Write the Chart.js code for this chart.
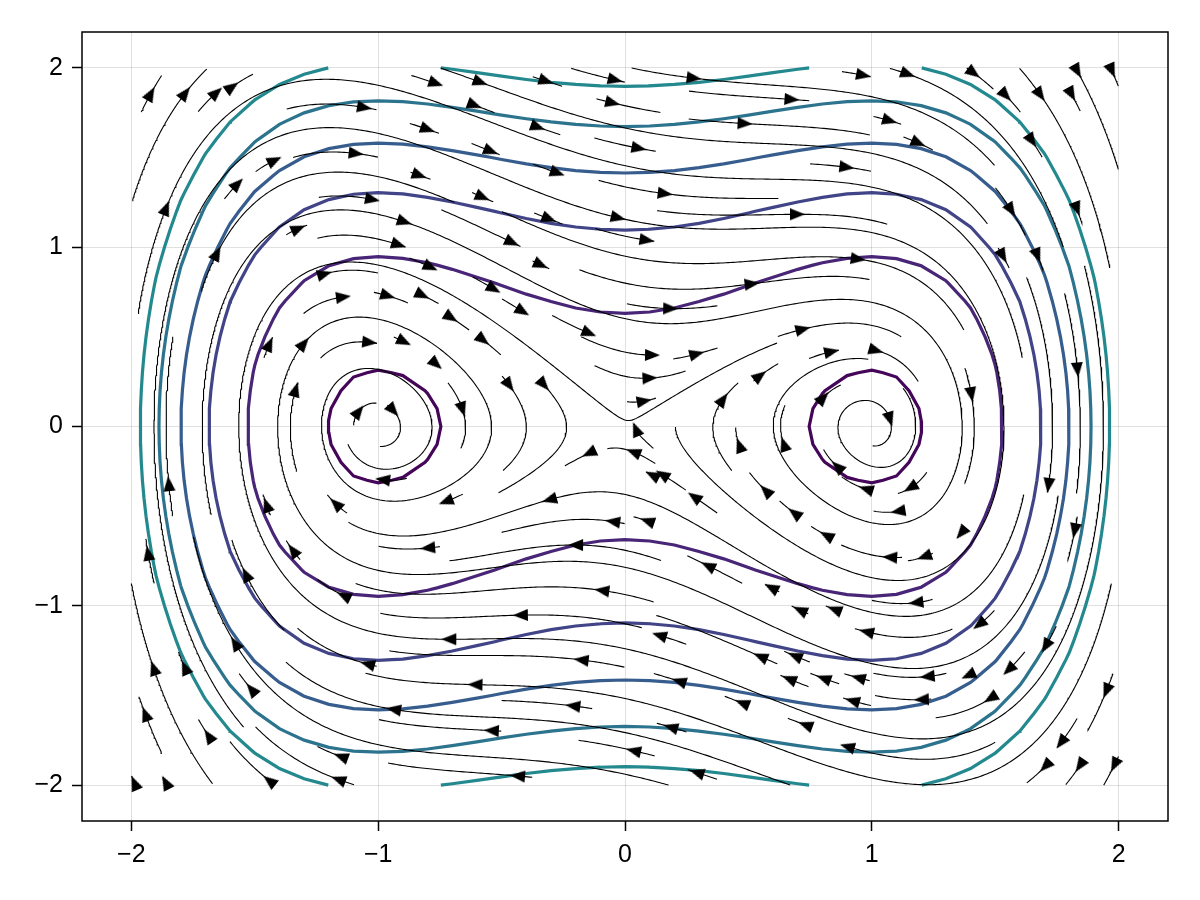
<!DOCTYPE html>
<html>
<head>
<meta charset="utf-8">
<script src="https://cdn.jsdelivr.net/npm/chart.js@4/dist/chart.umd.min.js"></script>
<style>
  html, body { margin: 0; background: #fff; }
  #wrap { width: 1200px; height: 900px; }
</style>
</head>
<body>
<div id="wrap"><canvas id="chart" width="1200" height="900"></canvas></div>
<script>
// axis setup
const xTicks = [-2, -1, 0, 1, 2];
const yTicks = [-2, -1, 0, 1, 2];
const axisLimits = [-2.2, 2.2];

// damped double-well field: dx = y, dy = x - x^3 - damping*y
const fieldLimits = [-2, 2];
const damping = 0.3;

// streamplot settings (Makie defaults)
const seedGrid = [32, 32];
const stepSize = 0.01;
const maxSteps = 500;

// energy contours overlaid on the stream plot
const contourLevels = [-0.2, 0.2, 0.6, 1.0, 1.4, 1.8];
const contourColors = ['#45065a', '#482576', '#414487', '#365d8d', '#2c738e', '#23898e'];
const contourGrid = 41;

const field = (x, y) => [y, x - x * x * x - damping * y];
const energy = (x, y) => y * y / 2 - x * x / 2 + x * x * x * x / 4;

// ---- stream lines, seeded cell by cell like Makie's streamplot ----
const lo = fieldLimits[0], hi = fieldLimits[1];
const nx = seedGrid[0], ny = seedGrid[1];
const cw = (hi - lo) / nx, ch = (hi - lo) / ny;
const mask = new Uint8Array(nx * ny).fill(1);
const inside = (x, y) => x >= lo && x <= hi && y >= lo && y <= hi;
const cellOf = (x, y) => {
  const i = Math.min(nx - 1, Math.floor((x - lo) / cw));
  const j = Math.min(ny - 1, Math.floor((y - lo) / ch));
  return j * nx + i;
};

const arrowPts = [];
const streamPts = [];
const total = nx * ny;
for (let k = 0; k < total; k++) {
  const idx = (k * 613) % total;
  if (!mask[idx]) continue;
  const i = idx % nx, j = Math.floor(idx / nx);
  const jx = ((k * 0.6180339887) % 1) - 0.5;
  const jy = ((k * 0.7548776662) % 1) - 0.5;
  const x0 = lo + (i + 0.5 + 0.8 * jx) * cw;
  const y0 = lo + (j + 0.5 + 0.8 * jy) * ch;
  mask[idx] = 0;
  const f0 = field(x0, y0);
  const m0 = Math.hypot(f0[0], f0[1]) || 1;
  arrowPts.push({ x: x0, y: y0, u: f0[0] / m0, v: f0[1] / m0 });
  for (const sgn of [-1, 1]) {
    const line = [{ x: x0, y: y0 }];
    let x = x0, y = y0, cur = idx, n = 1;
    while (n < maxSteps) {
      const f = field(x, y);
      const m = Math.hypot(f[0], f[1]) || 1;
      x += sgn * stepSize * f[0] / m;
      y += sgn * stepSize * f[1] / m;
      if (!inside(x, y)) break;
      const c = cellOf(x, y);
      if (c !== cur) {
        if (!mask[c]) break;
        mask[c] = 0;
        cur = c;
      }
      line.push({ x, y });
      n++;
    }
    if (sgn < 0) line.reverse();
    streamPts.push(...line, { x: NaN, y: NaN });
  }
}

// ---- contour lines by marching squares ----
function contour(level) {
  const h = (hi - lo) / (contourGrid - 1);
  const val = [];
  for (let i = 0; i < contourGrid; i++) {
    val.push([]);
    for (let j = 0; j < contourGrid; j++) val[i].push(energy(lo + i * h, lo + j * h));
  }
  const pts = {};
  const segs = [];
  const cut = (key, ia, ja, ib, jb) => {
    if (!(key in pts)) {
      const va = val[ia][ja], vb = val[ib][jb];
      const t = (level - va) / (vb - va);
      pts[key] = { x: lo + (ia + t * (ib - ia)) * h, y: lo + (ja + t * (jb - ja)) * h };
    }
    return key;
  };
  for (let i = 0; i < contourGrid - 1; i++) {
    for (let j = 0; j < contourGrid - 1; j++) {
      const a = val[i][j] >= level, b = val[i + 1][j] >= level;
      const c = val[i + 1][j + 1] >= level, d = val[i][j + 1] >= level;
      const cr = [];
      if (a !== b) cr.push(cut('h' + i + ',' + j, i, j, i + 1, j));
      if (b !== c) cr.push(cut('v' + (i + 1) + ',' + j, i + 1, j, i + 1, j + 1));
      if (d !== c) cr.push(cut('h' + i + ',' + (j + 1), i, j + 1, i + 1, j + 1));
      if (a !== d) cr.push(cut('v' + i + ',' + j, i, j, i, j + 1));
      if (cr.length === 2) segs.push(cr);
      else if (cr.length === 4) {
        const mid = (val[i][j] + val[i + 1][j] + val[i + 1][j + 1] + val[i][j + 1]) / 4 >= level;
        if (mid === a) { segs.push([cr[0], cr[1]]); segs.push([cr[2], cr[3]]); }
        else { segs.push([cr[0], cr[3]]); segs.push([cr[1], cr[2]]); }
      }
    }
  }
  const adj = new Map();
  segs.forEach((s, k) => s.forEach(e => { if (!adj.has(e)) adj.set(e, []); adj.get(e).push(k); }));
  const used = new Array(segs.length).fill(false);
  const out = [];
  const walk = (key, k) => {
    const line = [pts[key]];
    while (k !== undefined && !used[k]) {
      used[k] = true;
      const s = segs[k];
      key = s[0] === key ? s[1] : s[0];
      line.push(pts[key]);
      k = adj.get(key).find(q => !used[q]);
    }
    return line;
  };
  for (const [key, list] of adj) if (list.length === 1 && !used[list[0]]) out.push(...walk(key, list[0]), { x: NaN, y: NaN });
  segs.forEach((s, k) => { if (!used[k]) out.push(...walk(s[0], k), { x: NaN, y: NaN }); });
  return out;
}

// arrow head marker
const arrowImg = document.createElement('canvas');
arrowImg.width = 12; arrowImg.height = 15;
const g = arrowImg.getContext('2d');
g.fillStyle = '#000';
g.beginPath(); g.moveTo(6, 0); g.lineTo(12, 15); g.lineTo(0, 15); g.closePath(); g.fill();

const fmt = v => (v < 0 ? '\u2212' + Math.abs(v) : String(v));
const tickFont = { family: '"Liberation Sans", Arial, sans-serif', size: 25 };

const datasets = [
  {
    data: arrowPts, showLine: false, order: 0,
    pointStyle: arrowImg, pointRadius: 7,
    pointRotation: ctx => {
      const p = ctx.raw; const sc = ctx.chart.scales;
      if (!p || !sc.x) return 0;
      const dx = sc.x.getPixelForValue(p.x + p.u * 0.1) - sc.x.getPixelForValue(p.x);
      const dy = sc.y.getPixelForValue(p.y + p.v * 0.1) - sc.y.getPixelForValue(p.y);
      return Math.atan2(dx, -dy) * 180 / Math.PI;
    }
  },
  {
    data: streamPts, showLine: true, order: 1, spanGaps: false,
    borderColor: '#000', borderWidth: 1.1, pointRadius: 0
  }
];
contourLevels.forEach((lv, n) => {
  datasets.push({
    data: contour(lv), showLine: true, order: 2, spanGaps: false,
    borderColor: contourColors[n], borderWidth: 3.2, pointRadius: 0
  });
});

const frame = {
  id: 'frame',
  afterDraw(chart) {
    const a = chart.chartArea, c = chart.ctx;
    c.save(); c.strokeStyle = '#000'; c.lineWidth = 1.5;
    c.strokeRect(a.left, a.top, a.right - a.left, a.bottom - a.top);
    c.restore();
  }
};

const axis = (ticks, fit) => ({
  type: 'linear', min: axisLimits[0], max: axisLimits[1],
  afterBuildTicks: s => { s.ticks = ticks.map(v => ({ value: v })); },
  afterFit: fit,
  border: { display: false },
  grid: { color: 'rgba(0,0,0,0.12)', lineWidth: 1, drawTicks: true, tickLength: 10, tickColor: '#000', tickWidth: 1.5 },
  ticks: { font: tickFont, color: '#000', padding: 9, maxRotation: 0, autoSkip: false, callback: v => fmt(v) }
});

new Chart(document.getElementById('chart'), {
  type: 'scatter',
  data: { datasets },
  options: {
    responsive: false, animation: false, devicePixelRatio: 1, events: [],
    layout: { padding: { top: 32, right: 32, left: 0, bottom: 0 } },
    plugins: { legend: { display: false }, tooltip: { enabled: false } },
    scales: {
      x: axis(xTicks, s => { s.height = 79; }),
      y: axis(yTicks, s => { s.width = 82; })
    }
  },
  plugins: [frame]
});
</script>
</body>
</html>
